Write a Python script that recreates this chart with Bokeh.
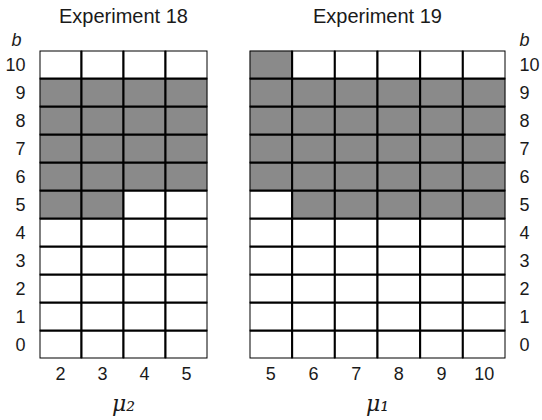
from bokeh.plotting import figure
from bokeh.layouts import row
from bokeh.models import Title, FixedTicker, Range1d
from bokeh.embed import file_html
from bokeh.resources import INLINE

b_values = list(range(11))
exp18_mu2 = [2, 3, 4, 5]
exp19_mu1 = [5, 6, 7, 8, 9, 10]
# 1 = gray cell; rows indexed by b (0..10), columns by mu value
exp18_grid = [
    [0, 0, 0, 0],  # b=0
    [0, 0, 0, 0],  # 1
    [0, 0, 0, 0],  # 2
    [0, 0, 0, 0],  # 3
    [0, 0, 0, 0],  # 4
    [1, 1, 0, 0],  # 5
    [1, 1, 1, 1],  # 6
    [1, 1, 1, 1],  # 7
    [1, 1, 1, 1],  # 8
    [1, 1, 1, 1],  # 9
    [0, 0, 0, 0],  # 10
]
exp19_grid = [
    [0, 0, 0, 0, 0, 0],
    [0, 0, 0, 0, 0, 0],
    [0, 0, 0, 0, 0, 0],
    [0, 0, 0, 0, 0, 0],
    [0, 0, 0, 0, 0, 0],
    [0, 1, 1, 1, 1, 1],
    [1, 1, 1, 1, 1, 1],
    [1, 1, 1, 1, 1, 1],
    [1, 1, 1, 1, 1, 1],
    [1, 1, 1, 1, 1, 1],
    [1, 0, 0, 0, 0, 0],
]

GRAY = "#8a8a8a"
TXT = "#1a1a1a"
FONT = "Liberation Sans"


def panel(title, xs, grid, xlabel, side, width, border_l, border_r, b_offset):
    fw = border_l + width + border_r
    p = figure(width=fw, height=420, output_backend="svg", toolbar_location=None,
               x_range=Range1d(xs[0] - 0.5, xs[-1] + 0.5),
               y_range=Range1d(-0.5, 10.5),
               y_axis_location=side, title=None,
               min_border_left=border_l, min_border_right=border_r,
               min_border_top=50, min_border_bottom=62)
    p.grid.visible = False
    p.outline_line_color = None
    p.background_fill_color = "white"
    p.border_fill_color = "white"

    cx, cy, col = [], [], []
    for bi, b in enumerate(b_values):
        for xi, x in enumerate(xs):
            cx.append(x)
            cy.append(b)
            col.append(GRAY if grid[bi][xi] else "white")
    p.rect(x=cx, y=cy, width=1, height=1, fill_color=col,
           line_color="black", line_width=2)

    for ax in (p.xaxis[0], p.yaxis[0]):
        ax.axis_line_color = None
        ax.major_tick_line_color = None
        ax.minor_tick_line_color = None
        ax.major_label_text_font = FONT
        ax.major_label_text_font_size = "18px"
        ax.major_label_text_color = TXT
    p.xaxis[0].major_label_standoff = 2
    p.yaxis[0].major_label_standoff = 8
    p.xaxis[0].ticker = FixedTicker(ticks=xs)
    p.yaxis[0].ticker = FixedTicker(ticks=b_values)
    p.xaxis[0].axis_label = xlabel
    p.xaxis[0].axis_label_text_font = "DejaVu Serif"
    p.xaxis[0].axis_label_text_font_style = "italic"
    p.xaxis[0].axis_label_text_font_size = "22px"
    p.xaxis[0].axis_label_text_color = TXT
    p.xaxis[0].axis_label_standoff = 8

    bt = Title(text="b", align=("left" if side == "left" else "right"), offset=b_offset)
    bt.text_font = FONT
    bt.text_font_style = "italic"
    bt.text_font_size = "18px"
    bt.text_color = TXT
    bt.standoff = 2
    p.add_layout(bt, "above")

    tt = Title(text=title, align="center", text_font=FONT, text_font_style="normal",
               text_font_size="20px", text_color=TXT, standoff=0)
    p.add_layout(tt, "above")
    return p


p1 = panel("Experiment 18", exp18_mu2, exp18_grid, "μ₂", "left", 168, 39, 21, -28)
p2 = panel("Experiment 19", exp19_mu1, exp19_grid, "μ₁", "right", 259, 21, 34, -24)
layout = row(p1, p2)

open("out.html", "w").write(file_html(layout, INLINE))
